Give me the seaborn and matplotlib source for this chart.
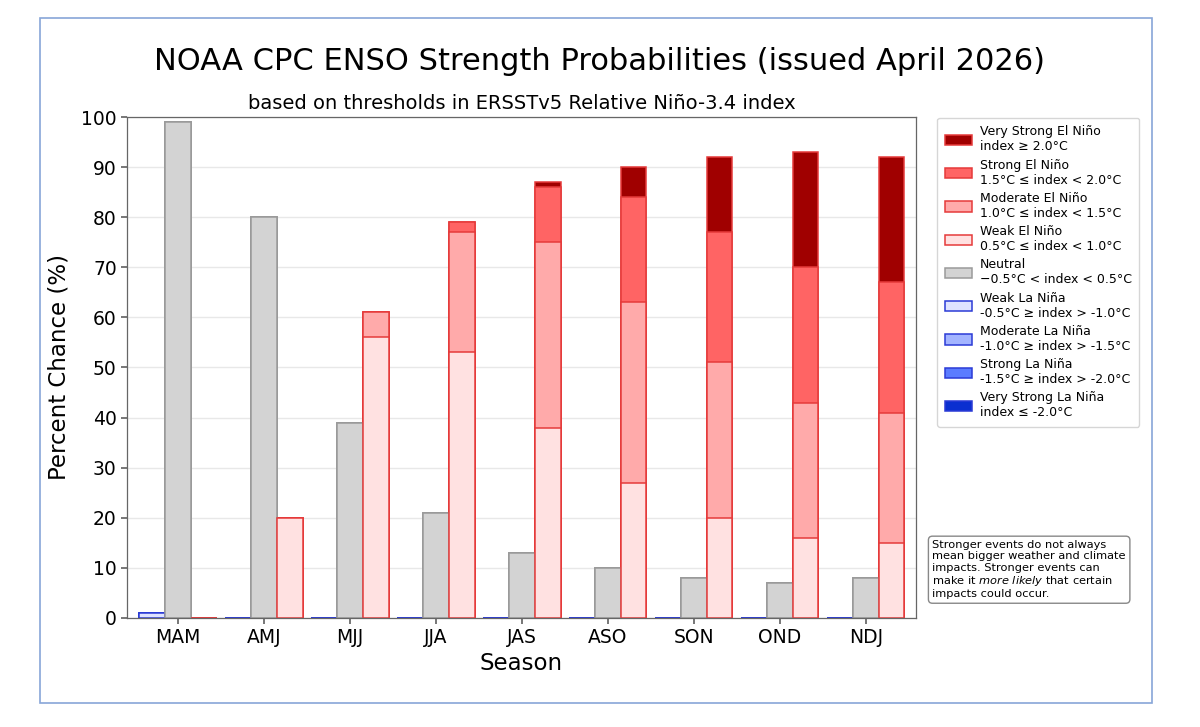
import pandas as pd
import numpy as np
import seaborn as sns
import matplotlib.pyplot as plt
from matplotlib.patches import Patch, Rectangle

# 数据
seasons = ["MAM", "AMJ", "MJJ", "JJA", "JAS", "ASO", "SON", "OND", "NDJ"]

neutral = [99, 80, 39, 21, 13, 10, 8, 7, 8]

weak_nino = [0, 20, 56, 53, 38, 27, 20, 16, 15]
moderate_nino = [0, 0, 5, 24, 37, 36, 31, 27, 26]
strong_nino = [0, 0, 0, 2, 11, 21, 26, 27, 26]
very_strong_nino = [0, 0, 0, 0, 1, 6, 15, 23, 25]

weak_nina = [1, 0, 0, 0, 0, 0, 0, 0, 0]
moderate_nina = [0, 0, 0, 0, 0, 0, 0, 0, 0]
strong_nina = [0, 0, 0, 0, 0, 0, 0, 0, 0]
very_strong_nina = [0, 0, 0, 0, 0, 0, 0, 0, 0]

groups = ["La Niña", "Neutral", "El Niño"]

# 颜色
nino_colors = ["#ffe1e1", "#ffaaaa", "#ff6464", "#a00000"]   # weak -> very strong
nina_colors = ["#dfe3ff", "#a3b4ff", "#5b7cff", "#0a2fd0"]
neutral_color = "#d3d3d3"
edge = {"La Niña": "#2b3bd6", "Neutral": "#9a9a9a", "El Niño": "#e53a3a"}

sns.set_theme(style="ticks")
plt.rcParams["font.family"] = ["DejaVu Sans"]
plt.rcParams["text.color"] = "black"
plt.rcParams["axes.labelcolor"] = "black"
plt.rcParams["xtick.color"] = "black"
plt.rcParams["ytick.color"] = "black"

fig = plt.figure(figsize=(12, 7.27), dpi=100)
ax = fig.add_axes([0.106, 0.150, 0.657, 0.689])

# 累计值（从下往上堆叠）
nino_layers = np.cumsum([weak_nino, moderate_nino, strong_nino, very_strong_nino], axis=0)
nina_layers = np.cumsum([weak_nina, moderate_nina, strong_nina, very_strong_nina], axis=0)

# 从最上层往下画，后画的覆盖前面的
for k in [3, 2, 1, 0]:
    df = pd.DataFrame({
        "season": seasons * 3,
        "group": [g for g in groups for _ in seasons],
        "value": list(nina_layers[k]) + neutral + list(nino_layers[k]),
    })
    sns.barplot(data=df, x="season", y="value", hue="group", hue_order=groups,
                palette={"La Niña": nina_colors[k], "Neutral": neutral_color,
                         "El Niño": nino_colors[k]},
                dodge=True, width=0.9, saturation=1, legend=False,
                linewidth=1.1, ax=ax)
    for cont, g in zip(ax.containers[-3:], groups):
        for bar in cont:
            bar.set_edgecolor(edge[g])

ax.set_ylim(0, 100)
ax.set_xlim(-0.59, 8.58)
ax.set_yticks(range(0, 101, 10))
ax.tick_params(axis="both", labelsize=13.5, length=4, color="#666666")
ax.yaxis.grid(True, color="#e8e8e8", linewidth=1)
ax.set_axisbelow(True)
for s in ax.spines.values():
    s.set_color("#666666")
    s.set_linewidth(0.9)

ax.set_xlabel("Season", fontsize=16.5, labelpad=3)
ax.set_ylabel("Percent Chance (%)", fontsize=16.5, labelpad=8)
ax.set_title("based on thresholds in ERSSTv5 Relative Niño-3.4 index", fontsize=14, pad=6)
fig.suptitle("NOAA CPC ENSO Strength Probabilities (issued April 2026)", fontsize=22, y=0.935)

# 图例
labels = [
    "Very Strong El Niño\nindex ≥ 2.0°C",
    "Strong El Niño\n1.5°C ≤ index < 2.0°C",
    "Moderate El Niño\n1.0°C ≤ index < 1.5°C",
    "Weak El Niño\n0.5°C ≤ index < 1.0°C",
    "Neutral\n−0.5°C < index < 0.5°C",
    "Weak La Niña\n-0.5°C ≥ index > -1.0°C",
    "Moderate La Niña\n-1.0°C ≥ index > -1.5°C",
    "Strong La Niña\n-1.5°C ≥ index > -2.0°C",
    "Very Strong La Niña\nindex ≤ -2.0°C",
]
face = nino_colors[::-1] + [neutral_color] + nina_colors
edges = [edge["El Niño"]] * 4 + [edge["Neutral"]] + [edge["La Niña"]] * 4
handles = [Patch(facecolor=f, edgecolor=e, linewidth=1.1) for f, e in zip(face, edges)]
fig.legend(handles, labels, loc="upper left", bbox_to_anchor=(0.781, 0.838),
           borderaxespad=0, fontsize=9, frameon=True, edgecolor="#cccccc",
           handlelength=2.2, handleheight=0.9, labelspacing=0.42, borderpad=0.6,
           handletextpad=0.6)

# 说明框
fig.text(0.777, 0.257,
         "Stronger events do not always\nmean bigger weather and climate\n"
         "impacts. Stronger events can\nmake it $\\it{more\\ likely}$ that certain\n"
         "impacts could occur.",
         fontsize=8.2, va="top", ha="left", linespacing=1.15,
         bbox=dict(boxstyle="round,pad=0.35", facecolor="white", edgecolor="#888888"))

# 外框
fig.patches.append(Rectangle((0.0333, 0.033), 0.927, 0.942, transform=fig.transFigure,
                             fill=False, edgecolor="#88a6d8", linewidth=1.2))

plt.savefig("out.png", dpi=100)
